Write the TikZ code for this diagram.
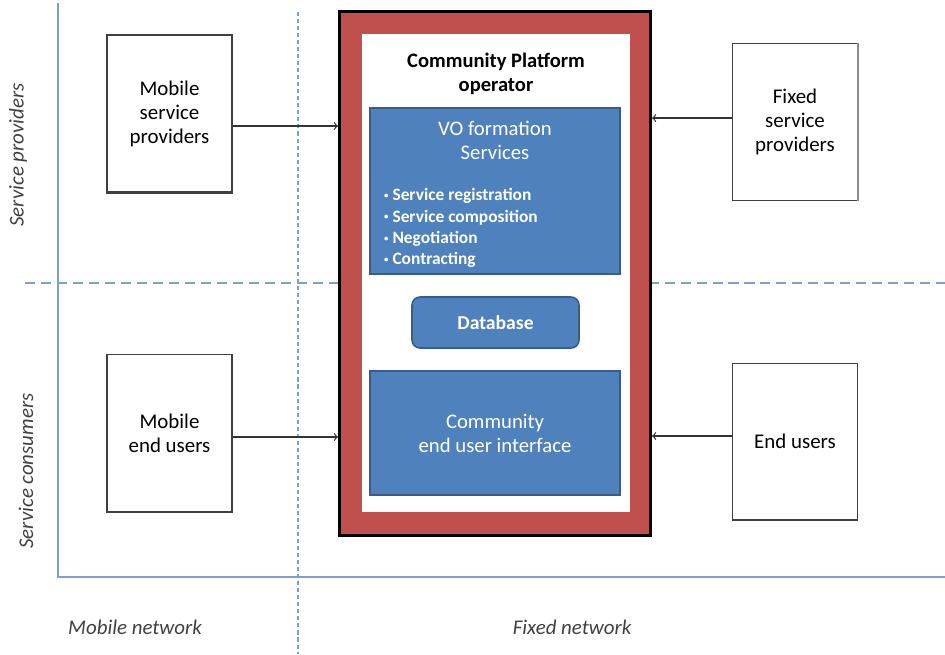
\documentclass[tikz,border=0pt]{standalone}
\usepackage{fontspec}
\setmainfont{Carlito}

\definecolor{axisblue}{HTML}{7BA0CD}
\definecolor{platred}{HTML}{C0504D}
\definecolor{boxblue}{HTML}{4F81BD}
\definecolor{boxedge}{HTML}{385D8A}
\definecolor{labelgrey}{HTML}{404040}

\begin{document}
\begin{tikzpicture}[x=0.02cm, y=-0.02cm,
    actor/.style={draw=black!75, fill=white, line width=0.6pt, minimum width=2.5cm,
        minimum height=3.14cm, align=center, inner sep=0pt,
        font=\fontsize{11.9}{13.7}\selectfont},
    platform/.style={draw=black, fill=platred, line width=1.7pt,
        minimum width=6.22cm, minimum height=10.48cm},
    opframe/.style={fill=white, minimum width=5.36cm, minimum height=9.56cm},
    service/.style={draw=boxedge, fill=boxblue, line width=0.9pt, minimum width=5cm},
    whitetext/.style={text=white, align=center, font=\fontsize{11.8}{13.7}\selectfont},
    conn/.style={draw=black!80, line width=0.7pt, ->},
    axisline/.style={draw=axisblue, line width=1.4pt},
    netdash/.style={draw=axisblue, line width=0.85pt, dash pattern=on 2.3pt off 1.7pt},
    roledash/.style={draw=axisblue, line width=0.85pt, dash pattern=on 5.7pt off 3.4pt},
    axislabel/.style={text=labelgrey, font=\fontsize{11.9}{12}\selectfont\itshape}
]
    \useasboundingbox (0,0) rectangle (945,654);

    % axes and borders
    \draw[axisline] (58,3) -- (58,577) -- (945,577);
    \draw[netdash] (298,12) -- (298,654);
    \draw[roledash] (25,283) -- (945,283);

    \node[axislabel, rotate=90] (provlabel) at (18,155) {Service providers};
    \node[axislabel, rotate=90] (conslabel) at (26,471) {Service consumers};
    \node[axislabel] (mobnet) at (135,627) {Mobile network};
    \node[axislabel] (fixnet) at (572,627) {Fixed network};

    % mobile side
    \node[actor] (mobsp) at (169.5,113.5) {Mobile\\service\\providers};
    \node[actor] (mobeu) at (169.5,433) {Mobile\\end users};
    \draw[line width=1.6pt, black!75] (mobsp.south west) -- (mobsp.south east);
    \draw[line width=1.6pt, black!75] (mobeu.south west) -- (mobeu.south east);

    % fixed side
    \node[actor] (fixsp) at (795,122) {Fixed\\service\\providers};
    \node[actor] (fixeu) at (795,441.5) {End users};
    \draw[line width=1.6pt, black!45] (fixsp.north east) -- (fixsp.south east);

    % community platform
    \node[platform] (platform) at (495,273.5) {};
    \node[opframe] (opframe) at (496,273) {};
    \node[font=\fontsize{11.7}{13.7}\selectfont\bfseries, align=center] (optitle) at (496,74)
        {Community Platform\\operator};

    \node[service, minimum height=3.32cm] (vo) at (495,191) {};
    \node[whitetext] (votitle) at (495,140) {VO formation\\Services};
    \node[text=white, align=left, anchor=west, font=\fontsize{9.9}{12.1}\selectfont\bfseries]
        (volist) at (378,228)
        {\raisebox{0.25ex}{\fontsize{5}{5}\selectfont\textbullet} Service registration\\
         \raisebox{0.25ex}{\fontsize{5}{5}\selectfont\textbullet} Service composition\\
         \raisebox{0.25ex}{\fontsize{5}{5}\selectfont\textbullet} Negotiation\\
         \raisebox{0.25ex}{\fontsize{5}{5}\selectfont\textbullet} Contracting};

    \node[service, rounded corners=0.16cm, minimum width=3.34cm, minimum height=1.02cm,
        whitetext, font=\fontsize{11.2}{13.7}\selectfont\bfseries] (db) at (495.5,322.5) {Database};

    \node[service, minimum height=2.48cm, whitetext] (ui) at (495,433)
        {Community\\end user interface};

    % arrows into the platform
    \draw[conn] ([yshift=-0.25cm]mobsp.east) -- ([yshift=-0.25cm]mobsp.east -| platform.west);
    \draw[conn] ([yshift=-0.08cm]mobeu.east) -- ([yshift=-0.08cm]mobeu.east -| platform.west);
    \draw[conn] ([yshift=0.08cm]fixsp.west) -- ([yshift=0.08cm]fixsp.west -| platform.east);
    \draw[conn] ([yshift=0.11cm]fixeu.west) -- ([yshift=0.11cm]fixeu.west -| platform.east);

\end{tikzpicture}
\end{document}
